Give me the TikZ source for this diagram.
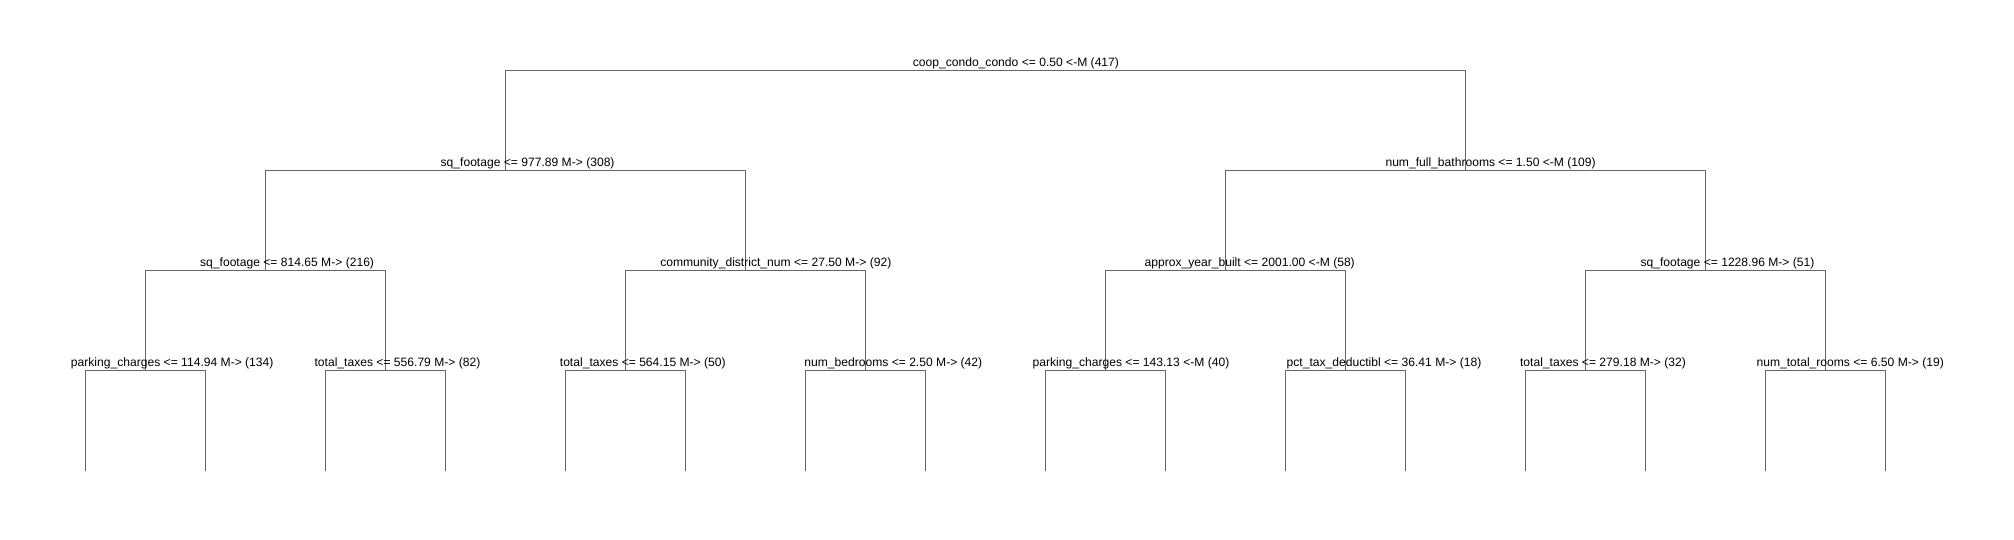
\documentclass[tikz,border=0pt]{standalone}
\usepackage{fontspec}
\setmainfont{Liberation Sans}
\begin{document}
\begin{tikzpicture}[x=0.5pt,y=-0.5pt,
  edge/.style={draw=black!60,line width=0.5pt},
  lbl/.style={anchor=base,inner sep=0pt,font=\fontsize{6.05pt}{7pt}\selectfont}]
\useasboundingbox (0,0) rectangle (2014,540);
% levels
\def\ya{70.7}\def\yb{170.7}\def\yc{270.7}\def\yd{370.7}\def\ye{470.7}
% root
\coordinate (r) at (985.3,\ya);
% level 1
\coordinate (a1) at (505.3,\yb);
\coordinate (a2) at (1465.3,\yb);
% level 2
\coordinate (b1) at (265.3,\yc);
\coordinate (b2) at (745.3,\yc);
\coordinate (b3) at (1225.3,\yc);
\coordinate (b4) at (1705.3,\yc);
% level 3
\foreach \i/\x in {1/145.3,2/385.3,3/625.3,4/865.3,5/1105.3,6/1345.3,7/1585.3,8/1825.3}
  \coordinate (c\i) at (\x,\yd);
% leaves
\foreach \i in {1,...,16}
  \coordinate (f\i) at ({85.3+120*(\i-1)},\ye);
% connectors
\draw[edge] (a1) |- (r) -| (a2);
\draw[edge] (b1) |- (a1) -| (b2);
\draw[edge] (b3) |- (a2) -| (b4);
\draw[edge] (c1) |- (b1) -| (c2);
\draw[edge] (c3) |- (b2) -| (c4);
\draw[edge] (c5) |- (b3) -| (c6);
\draw[edge] (c7) |- (b4) -| (c8);
\draw[edge] (f1) |- (c1) -| (f2);
\draw[edge] (f3) |- (c2) -| (f4);
\draw[edge] (f5) |- (c3) -| (f6);
\draw[edge] (f7) |- (c4) -| (f8);
\draw[edge] (f9) |- (c5) -| (f10);
\draw[edge] (f11) |- (c6) -| (f12);
\draw[edge] (f13) |- (c7) -| (f14);
\draw[edge] (f15) |- (c8) -| (f16);
% labels
\node[lbl] (tr) at (1015.9,66.2) {coop\_condo\_condo <= 0.50 <-M (417)};
\node[lbl] (ta1) at (527.6,166.2) {sq\_footage <= 977.89 M-> (308)};
\node[lbl] (ta2) at (1490.6,166.2) {num\_full\_bathrooms <= 1.50 <-M (109)};
\node[lbl] (tb1) at (287.1,266.2) {sq\_footage <= 814.65 M-> (216)};
\node[lbl] (tb2) at (775.8,266.2) {community\_district\_num <= 27.50 M-> (92)};
\node[lbl] (tb3) at (1249.7,266.2) {approx\_year\_built <= 2001.00 <-M (58)};
\node[lbl] (tb4) at (1727.5,266.2) {sq\_footage <= 1228.96 M-> (51)};
\node[lbl] (tc1) at (172.2,366.2) {parking\_charges <= 114.94 M-> (134)};
\node[lbl] (tc2) at (397.5,366.2) {total\_taxes <= 556.79 M-> (82)};
\node[lbl] (tc3) at (642.8,366.2) {total\_taxes <= 564.15 M-> (50)};
\node[lbl] (tc4) at (893.3,366.2) {num\_bedrooms <= 2.50 M-> (42)};
\node[lbl] (tc5) at (1131.0,366.2) {parking\_charges <= 143.13 <-M (40)};
\node[lbl] (tc6) at (1384.0,366.2) {pct\_tax\_deductibl <= 36.41 M-> (18)};
\node[lbl] (tc7) at (1603.0,366.2) {total\_taxes <= 279.18 M-> (32)};
\node[lbl] (tc8) at (1850.2,366.2) {num\_total\_rooms <= 6.50 M-> (19)};
\end{tikzpicture}
\end{document}
